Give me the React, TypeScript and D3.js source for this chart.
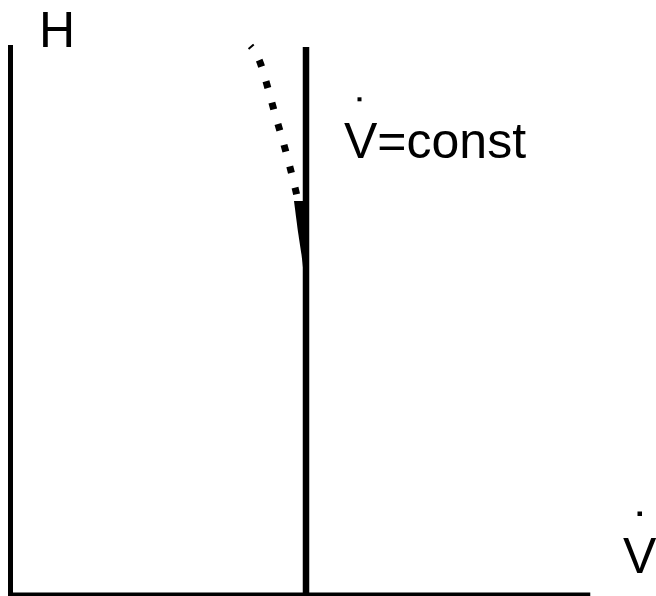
import React from "react";
import * as d3 from "d3";

// Axis labels
const yLabel = "H";
const xLabel = "V";
const lineLabel = "V=const";

// constant flow line position (data units)
const constV = [5];
// curve H(V): [V, H]
const curveDotted: [number, number][] = [
  [4.06, 10.0],
  [4.23, 9.68],
  [4.45, 8.86],
  [4.66, 8.07],
  [4.82, 7.39],
  [4.87, 7.15],
];
// solid part of the curve, left edge merging into the constant line: [V, H]
const curveSolidEdge: [number, number][] = [
  [4.797, 7.17],
  [4.873, 6.55],
  [4.924, 6.19],
  [4.955, 5.9],
];

const W = 656;
const H = 596;

export default function App() {
  const x = d3.scaleLinear().domain([0, 10]).range([10.5, 601.5]);
  const y = d3.scaleLinear().domain([0, 10]).range([594, 46]);
  const line = d3
    .line<[number, number]>()
    .x((d) => x(d[0]))
    .y((d) => y(d[1]))
    .curve(d3.curveNatural);
  const area = d3
    .area<[number, number]>()
    .y((d) => y(d[1]))
    .x0((d) => x(d[0]))
    .x1(() => x(constV[0]))
    .curve(d3.curveNatural);
  const font = "'Liberation Sans', Arial, sans-serif";
  return (
    <svg
      width={W}
      height={H}
      style={{ position: "absolute", left: 0, top: 0, background: "#fff" }}
    >
      <rect x={0} y={0} width={W} height={H} fill="#fff" />
      {/* left axis */}
      <line x1={x(0)} x2={x(0)} y1={y(10.02)} y2={H} stroke="#000" strokeWidth={5} />
      {/* bottom axis */}
      <line x1={x(0) - 2.5} x2={x(9.81)} y1={594.5} y2={594.5} stroke="#000" strokeWidth={4} />
      {/* constant line */}
      {constV.map((v, i) => (
        <line key={i} x1={x(v)} x2={x(v)} y1={y(9.98)} y2={H} stroke="#000" strokeWidth={6.5} />
      ))}
      {/* dotted curve */}
      <path
        d={line(curveDotted) || ""}
        fill="none"
        stroke="#000"
        strokeWidth={7}
        strokeDasharray="7 15"
        strokeDashoffset={5}
      />
      <path d={area(curveSolidEdge) || ""} fill="#000" stroke="none" />
      {/* labels */}
      <text x={39} y={47} fontFamily={font} fontSize={50} fill="#000">
        {yLabel}
      </text>
      <text x={344} y={158} fontFamily={font} fontSize={50} fill="#000">
        {lineLabel}
      </text>
      <rect x={357.5} y={97.3} width={4} height={4} fill="#000" />
      <text x={623} y={573} fontFamily={font} fontSize={50} fill="#000">
        {xLabel}
      </text>
      <rect x={637.5} y={511.5} width={4.5} height={4.5} fill="#000" />
    </svg>
  );
}
